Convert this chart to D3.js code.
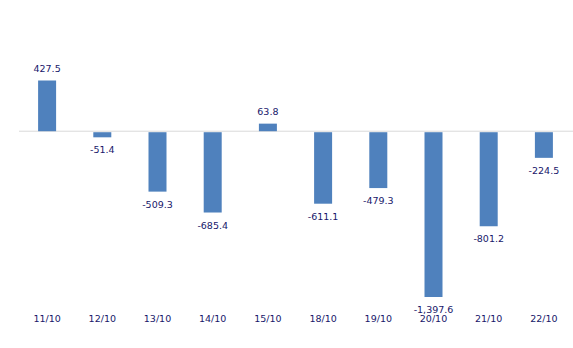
<!DOCTYPE html>
<html><head><meta charset="utf-8">
<script src="https://cdn.jsdelivr.net/npm/d3@7"></script>
<style>body{margin:0;background:#fff;}svg{display:block;}</style>
</head><body>
<script>
const categories = ["11/10","12/10","13/10","14/10","15/10","18/10","19/10","20/10","21/10","22/10"];
const values = [427.5,-51.4,-509.3,-685.4,63.8,-611.1,-479.3,-1397.6,-801.2,-224.5];

const W = 573, H = 348;
const svg = d3.select("body").append("svg").attr("width", W).attr("height", H);

const x = d3.scaleBand().domain(categories).range([19.5, 571.5]).padding(0);
const y = d3.scaleLinear().domain([-1397.6, 427.5]).range([297, 80.5]);
const bw = 18;
const fmt = v => d3.format(",.1f")(v).replace("\u2212", "-");
const textColor = "#17176a";
const font = "DejaVu Sans, Verdana, sans-serif";

svg.append("line")
  .attr("x1", 19).attr("x2", 573)
  .attr("y1", y(0)).attr("y2", y(0))
  .attr("stroke", "#d9d9d9").attr("stroke-width", 1);

svg.selectAll("rect.bar").data(values).enter().append("rect")
  .attr("class", "bar")
  .attr("x", (d, i) => x(categories[i]) + x.bandwidth() / 2 - bw / 2)
  .attr("width", bw)
  .attr("y", d => d >= 0 ? y(d) : y(0) + 1)
  .attr("height", d => d >= 0 ? y(0) - y(d) : y(d) - y(0) - 1)
  .attr("fill", "#4F81BD");

svg.selectAll("text.val").data(values).enter().append("text")
  .attr("class", "val")
  .attr("x", (d, i) => x(categories[i]) + x.bandwidth() / 2)
  .attr("y", d => d >= 0 ? y(d) - 9 : y(d) + 16)
  .attr("text-anchor", "middle")
  .attr("font-family", font).attr("font-size", "9.5px")
  .attr("fill", textColor)
  .text(d => fmt(d));

const xAxis = svg.append("g").attr("transform", "translate(0,315)")
  .call(d3.axisBottom(x).tickSize(0).tickPadding(0));
xAxis.select(".domain").remove();
xAxis.selectAll("text")
  .attr("font-family", font).attr("font-size", "9.5px")
  .attr("fill", textColor).attr("dy", "0.71em");
</script>
</body></html>
